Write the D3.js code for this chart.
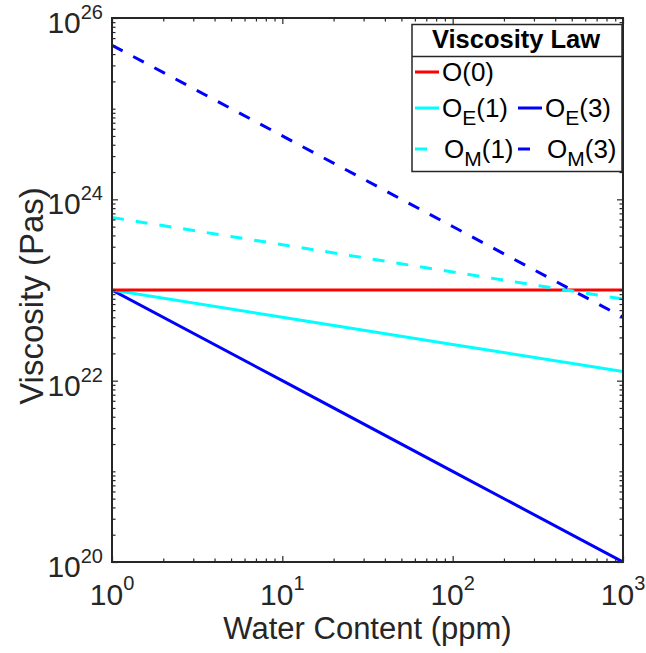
<!DOCTYPE html>
<html><head><meta charset="utf-8">
<script src="https://cdn.jsdelivr.net/npm/d3@7"></script>
<style>body{margin:0;background:#fff}svg{display:block}text{font-family:"Liberation Sans",Arial,sans-serif;fill:#262626}</style>
</head><body><svg id="c" width="646" height="653"></svg>
<script>
const water = [1, 10, 100, 1000];
const O0  = [1e23, 1e23, 1e23, 1e23];
const OE1 = [1e23, 5.01e22, 2.51e22, 1.26e22];
const OE3 = [1e23, 1e22, 1e21, 1e20];
const OM1 = [6.31e23, 3.16e23, 1.58e23, 7.94e22];
const OM3 = [5.01e25, 5.01e24, 5.01e23, 5.01e22];
const seriesNames = ["O(0)", "O_E(1)", "O_E(3)", "O_M(1)", "O_M(3)"];
const xTickExp = [0, 1, 2, 3];
const yTickExp = [20, 22, 24, 26];

const svg = d3.select("#c");
const L = 112, R = 623, T = 18, B = 562;
const x = d3.scaleLog().domain([1, 1000]).range([L, R]);
const y = d3.scaleLog().domain([1e20, 1e26]).range([B, T]);
const axisColor = "#262626";

const series = [
  {name: seriesNames[0], v: O0, color: "#ff0000", dash: null},
  {name: seriesNames[1], v: OE1, color: "#00ffff", dash: null},
  {name: seriesNames[2], v: OE3, color: "#0000ff", dash: null},
  {name: seriesNames[3], v: OM1, color: "#00ffff", dash: "12,12"},
  {name: seriesNames[4], v: OM3, color: "#0000ff", dash: "12,12"}
];

svg.append("clipPath").attr("id","pc").append("rect")
  .attr("x", L).attr("y", T).attr("width", R-L).attr("height", B-T);

const line = d3.line().x((d,i)=>x(water[i])).y(d=>y(d));
const g = svg.append("g").attr("clip-path","url(#pc)");
[series[2], series[1], series[0], series[3], series[4]].forEach(s=>{
  g.append("path").attr("d", line(s.v)).attr("fill","none")
    .attr("stroke", s.color).attr("stroke-width", 3)
    .attr("stroke-dasharray", s.dash);
});

const xMajor = xTickExp.map(e=>Math.pow(10,e));
const xMinor = [];
for (let e=0;e<3;e++) for (let k=2;k<=9;k++) xMinor.push(k*Math.pow(10,e));
const yMajor = yTickExp.map(e=>Math.pow(10,e));
const yMinor = [];
for (let e=20;e<26;e++) { if (e%2===1) yMinor.push(Math.pow(10,e)); for (let k=2;k<=9;k++) yMinor.push(k*Math.pow(10,e)); }

function addAxis(gen, vals, size, tr){
  const a = svg.append("g").attr("transform", tr)
    .call(gen.tickValues(vals).tickSize(size).tickFormat(""));
  a.select(".domain").remove();
  a.selectAll("line").attr("stroke", axisColor).attr("stroke-width", 1.2);
}
const maj = 6, mnr = 3.5;
addAxis(d3.axisBottom(x), xMajor, -maj, `translate(0,${B})`);
addAxis(d3.axisBottom(x), xMinor, -mnr, `translate(0,${B})`);
addAxis(d3.axisTop(x), xMajor, -maj, `translate(0,${T})`);
addAxis(d3.axisTop(x), xMinor, -mnr, `translate(0,${T})`);
addAxis(d3.axisLeft(y), yMajor, -maj, `translate(${L},0)`);
addAxis(d3.axisLeft(y), yMinor, -mnr, `translate(${L},0)`);
addAxis(d3.axisRight(y), yMajor, -maj, `translate(${R},0)`);
addAxis(d3.axisRight(y), yMinor, -mnr, `translate(${R},0)`);

svg.append("rect").attr("x", L).attr("y", T).attr("width", R-L).attr("height", B-T)
  .attr("fill","none").attr("stroke", axisColor).attr("stroke-width", 2);

xTickExp.forEach(e=>{
  const t = svg.append("text").attr("x", x(Math.pow(10,e))).attr("y", 605)
    .attr("text-anchor","middle").style("font-size","30px");
  t.append("tspan").text("10");
  t.append("tspan").attr("dy", -15).style("font-size","20px").text(e);
});
yTickExp.forEach(e=>{
  const t = svg.append("text").attr("x", 103).attr("y", y(Math.pow(10,e))+15)
    .attr("text-anchor","end").style("font-size","30px");
  t.append("tspan").text("10");
  t.append("tspan").attr("dy", -14).style("font-size","20px").text(e);
});

svg.append("text").attr("x", (L+R)/2).attr("y", 639).attr("text-anchor","middle")
  .style("font-size","31px").text("Water Content (ppm)");
svg.append("text").attr("transform", `translate(43,296) rotate(-90)`)
  .attr("text-anchor","middle").style("font-size","33px").text("Viscosity (Pas)");

const lg = svg.append("g");
lg.append("rect").attr("x", 412).attr("y", 24.5).attr("width", 210).attr("height", 147)
  .attr("fill","#fff").attr("stroke", axisColor).attr("stroke-width", 1.5);
lg.append("line").attr("x1", 412).attr("x2", 622).attr("y1", 56.5).attr("y2", 56.5)
  .attr("stroke", axisColor).attr("stroke-width", 1.5);
lg.append("text").attr("x", 516).attr("y", 48).attr("text-anchor","middle")
  .style("font-size","25.5px").style("font-weight","bold").style("fill","#000").text("Viscosity Law");

const items = [
  {s: series[0], lx: 415, ty: 72},
  {s: series[1], lx: 415, ty: 108},
  {s: series[2], lx: 518, ty: 108},
  {s: series[3], lx: 415, ty: 149},
  {s: series[4], lx: 518, ty: 149}
];
items.forEach(it=>{
  lg.append("line").attr("x1", it.lx).attr("x2", it.lx+24).attr("y1", it.ty).attr("y2", it.ty)
    .attr("stroke", it.s.color).attr("stroke-width", 3).attr("stroke-dasharray", it.s.dash);
  const t = lg.append("text").attr("x", it.lx+27 + (it.s.dash?2:0)).attr("y", it.ty+9)
    .style("font-size","26px").style("fill","#000");
  const parts = it.s.name.match(/^O(?:_([A-Z]))?(\(.*\))$/);
  t.append("tspan").text("O");
  if (parts[1]) {
    t.append("tspan").attr("dy", 8).style("font-size","21px").text(parts[1]);
    t.append("tspan").attr("dy", -8).text(parts[2]);
  } else {
    t.append("tspan").text(parts[2]);
  }
});
</script></body></html>
